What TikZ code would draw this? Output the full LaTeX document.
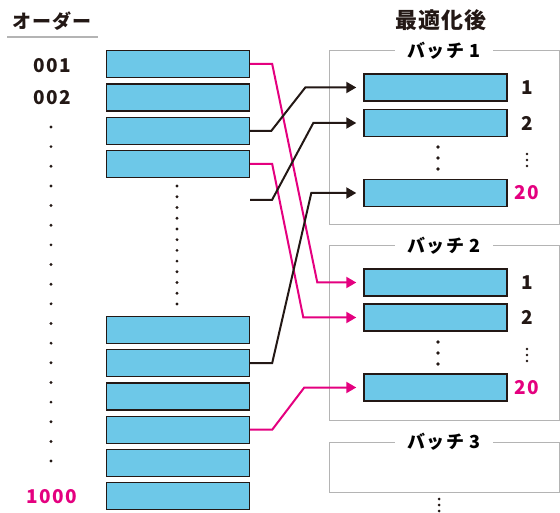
\documentclass[tikz,border=0pt]{standalone}
\usepackage{fontspec}
\setmainfont{Noto Sans CJK JP}
\usetikzlibrary{arrows.meta,positioning}
\definecolor{boxblue}{HTML}{6DC8E8}
\definecolor{linkpink}{HTML}{E4007F}
\definecolor{inkblack}{HTML}{231815}
\definecolor{framegray}{HTML}{B4B4B4}
\tikzset{
  order/.style = {
    rectangle,
    draw=inkblack,
    line width=1.4pt,
    fill=boxblue,
    minimum width=143pt,
    minimum height=27pt,
    inner sep=0pt
  },
  batch/.style = {
    rectangle,
    draw=framegray,
    line width=1pt,
    inner sep=0pt
  },
  batch_title/.style = {
    fill=white,
    inner xsep=12pt,
    font=\fontsize{18}{20}\selectfont\bfseries\addfontfeature{LetterSpace=8}
  },
  num/.style = {
    font=\fontsize{19}{22}\selectfont\bfseries\addfontfeature{LetterSpace=8},
    text=inkblack
  },
  dot/.style = {
    circle,
    fill=inkblack,
    inner sep=0pt,
    minimum size=3.6pt
  },
  link_black/.style = {
    line width=2pt,
    draw=inkblack,
    -{Triangle[length=10pt,width=11pt]}
  },
  link_pink/.style = {
    line width=2pt,
    draw=linkpink,
    -{Triangle[length=10pt,width=11pt]}
  }
}

\begin{document}
\begin{tikzpicture}[x=1pt,y=-1pt]
\useasboundingbox (0,0) rectangle (560,513);

% Spalte links: Orders
\node[font=\fontsize{19}{22}\selectfont\bfseries\addfontfeature{LetterSpace=4}, text=inkblack] (ordtitle) at (52,21) {オーダー};
\draw[framegray, line width=1.2pt] (7,37) coordinate (ul_a) -- (98,37) coordinate (ul_b);
\node[num] (n001) at (52,66) {001};
\node[num] (n002) at (52,98) {002};
\foreach \i in {0,...,17}
  \node[dot, minimum size=3.2pt] (ld\i) at (51,127+19.65*\i) {};
\node[num, text=linkpink] (n1000) at (52,497) {1000};

% Orders oben
\foreach \y [count=\i] in {64,97.5,131,164}
  \node[order] (o\i) at (178,\y) {};
% Orders unten
\foreach \y [count=\i] in {330,363,396.3,429.7,463,496}
  \node[order] (u\i) at (178,\y) {};
\foreach \i in {0,...,11}
  \node[dot, minimum size=3.2pt] (md\i) at (177,186+10.73*\i) {};
\coordinate (free) at (250,200);

% rechts: nach Optimierung
\node[font=\fontsize{22}{24}\selectfont\bfseries\addfontfeature{LetterSpace=6}, text=inkblack] (opttitle) at (441,20) {最適化後};

% Batch 1
\node[batch, minimum width=230pt, minimum height=174pt] (batch1) at (444,138) {};
\node[batch_title] (bt1) at (batch1.north) {バッチ 1};
\node[order] (b1n1) at (435.5,87.5) {};
\node[order] (b1n2) at (435.5,123) {};
\node[order] (b1n20) at (435.5,193) {};
\node[num] (l1n1) at (527,87.5) {1};
\node[num] (l1n2) at (527,123) {2};
\node[num, text=linkpink] (l1n20) at (527,193) {20};
\foreach \i in {0,1,2}
  \node[dot] (b1d\i) at (438,147+11*\i) {};
\foreach \i in {0,1,2}
  \node[dot, minimum size=2.8pt] (l1d\i) at (527,154+6*\i) {};

% Batch 2
\node[batch, minimum width=230pt, minimum height=174pt] (batch2) at (444,333) {};
\node[batch_title] (bt2) at (batch2.north) {バッチ 2};
\node[order] (b2n1) at (435.5,282.5) {};
\node[order] (b2n2) at (435.5,317.5) {};
\node[order] (b2n20) at (435.5,387.5) {};
\node[num] (l2n1) at (527,282.5) {1};
\node[num] (l2n2) at (527,317.5) {2};
\node[num, text=linkpink] (l2n20) at (527,387.5) {20};
\foreach \i in {0,1,2}
  \node[dot] (b2d\i) at (438,342+11*\i) {};
\foreach \i in {0,1,2}
  \node[dot, minimum size=2.8pt] (l2d\i) at (527,349+6*\i) {};

% Batch 3
\node[batch, minimum width=230pt, minimum height=50pt] (batch3) at (444,467) {};
\node[batch_title] (bt3) at (batch3.north) {バッチ 3};
\foreach \i in {0,1,2}
  \node[dot, minimum size=3pt] (b3d\i) at (439,499+6*\i) {};

% Verbindungen
\draw[link_pink] (o1.east) -- ++(22,0) -- ([xshift=-46pt]b2n1.west) -- ([xshift=-7pt]b2n1.west);
\draw[link_pink] (o4.east) -- ++(22,0) -- ([xshift=-60pt]b2n2.west) -- ([xshift=-7pt]b2n2.west);
\draw[link_black] (o3.east) -- ++(21,0) -- ([xshift=-58pt]b1n1.west) -- ([xshift=-7pt]b1n1.west);
\draw[link_black] (free) -- ++(22,0) -- ([xshift=-50pt]b1n2.west) -- ([xshift=-7pt]b1n2.west);
\draw[link_black] (u2.east) -- ++(22,0) -- ([xshift=-52pt]b1n20.west) -- ([xshift=-7pt]b1n20.west);
\draw[link_pink] (u4.east) -- ++(22,0) -- ([xshift=-59pt]b2n20.west) -- ([xshift=-7pt]b2n20.west);

\end{tikzpicture}
\end{document}
